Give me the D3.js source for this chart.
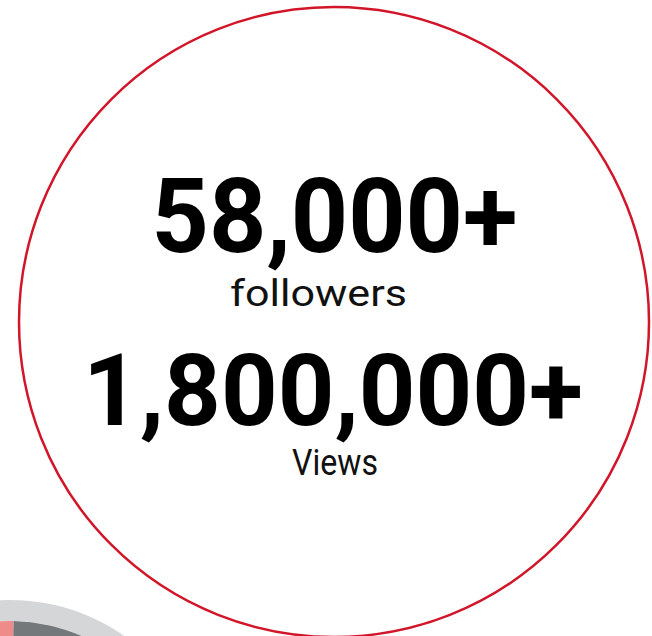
<!DOCTYPE html>
<html>
<head>
<meta charset="utf-8">
<script src="https://cdn.jsdelivr.net/npm/d3@7"></script>
<style>
  html, body { margin: 0; padding: 0; background: #fff; }
  svg { display: block; }
</style>
</head>
<body>
<svg id="chart" width="652" height="636"></svg>
<script>
// ---- data ----
const statValues = ["58,000+", "1,800,000+"];
const statLabels = ["followers", "Views"];
const donutNames = ["share", "rest"];
const donutValues = [25, 75];

// ---- layout / style ----
const W = 652, H = 636;
const svg = d3.select("#chart");

// partial donut peeking in at bottom-left
const donutG = svg.append("g").attr("transform", "translate(10,800)");
donutG.append("path")
  .attr("d", d3.arc()({innerRadius: 179, outerRadius: 200, startAngle: 0, endAngle: 2 * Math.PI}))
  .attr("fill", "#d4d6d8");
const pie = d3.pie().sort(null).startAngle(-Math.PI / 2 + 0.02).endAngle(3 * Math.PI / 2 + 0.02);
const donutColor = d3.scaleOrdinal().domain(donutNames).range(["#f08b8b", "#75787b"]);
const arcs = pie(donutValues);
donutG.selectAll("path.seg").data(arcs).join("path")
  .attr("class", "seg")
  .attr("d", d3.arc().innerRadius(110).outerRadius(179))
  .attr("fill", (d, i) => donutColor(donutNames[i]));

// red outline circle
svg.append("circle")
  .attr("cx", 334).attr("cy", 322).attr("r", 315)
  .attr("fill", "none")
  .attr("stroke", "#d2162a")
  .attr("stroke-width", 2.5);

// text
const big = [
  {y: 252, size: 104, len: 366, x: 334.5},
  {y: 425, size: 100, len: 500, x: 333}
];
const small = [
  {y: 306, size: 37, len: 177, x: 318.5},
  {y: 475, size: 37, len: 86, x: 335}
];
const font = "Roboto, 'Liberation Sans', Arial, sans-serif";

svg.selectAll("text.val").data(statValues).join("text")
  .attr("class", "val")
  .attr("x", (d, i) => big[i].x)
  .attr("y", (d, i) => big[i].y)
  .attr("text-anchor", "middle")
  .attr("font-family", font)
  .attr("font-weight", 700)
  .attr("font-size", (d, i) => big[i].size)
  .attr("textLength", (d, i) => big[i].len)
  .attr("lengthAdjust", "spacingAndGlyphs")
  .attr("fill", "#000")
  .text(d => d);

svg.selectAll("text.lab").data(statLabels).join("text")
  .attr("class", "lab")
  .attr("x", (d, i) => small[i].x)
  .attr("y", (d, i) => small[i].y)
  .attr("text-anchor", "middle")
  .attr("font-family", font)
  .attr("font-weight", 400)
  .attr("font-size", (d, i) => small[i].size)
  .attr("textLength", (d, i) => small[i].len)
  .attr("lengthAdjust", "spacingAndGlyphs")
  .attr("fill", "#111")
  .text(d => d);
</script>
</body>
</html>
